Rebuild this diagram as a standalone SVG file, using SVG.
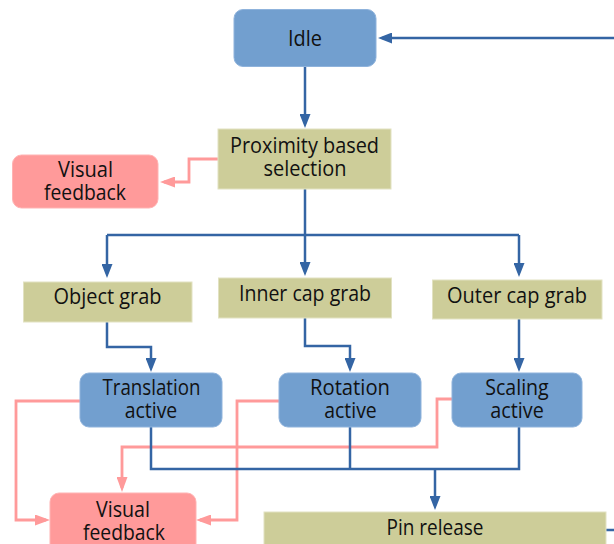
<svg xmlns="http://www.w3.org/2000/svg" width="614" height="544" viewBox="0 0 614 544">
  <defs>
    <style>
      .state { fill: #729fcf; stroke: #8fb3dc; stroke-width: 1; }
      .step { fill: #cdcd99; stroke: #e2e2c2; stroke-width: 1; }
      .fb { fill: #ff9a9a; stroke: #ffb3b3; stroke-width: 1; }
      .lbl { font-family: "Open Sans", "Noto Sans", "DejaVu Sans", sans-serif; font-size: 22px; fill: #111; text-anchor: middle; }
      .flow { fill: none; stroke: #3465a4; stroke-width: 2.5; }
      .hint { fill: none; stroke: #ff9a9a; stroke-width: 2.8; }
    </style>
    <marker id="arrowBlue" markerUnits="userSpaceOnUse" markerWidth="15" markerHeight="11" refX="10" refY="5.5" orient="auto">
      <path d="M0,0 L14,5.5 L0,11 z" fill="#3465a4"/>
    </marker>
    <marker id="arrowPink" markerUnits="userSpaceOnUse" markerWidth="15" markerHeight="11" refX="11" refY="5.5" orient="auto">
      <path d="M0,0 L15,5.5 L0,11 z" fill="#ff9a9a"/>
    </marker>
  </defs>
  <rect width="614" height="544" fill="#ffffff"/>

  <!-- feedback links -->
  <g id="connectors-feedback">
    <path class="hint" d="M218,159 H189 V182 H164" marker-end="url(#arrowPink)"/>
    <path class="hint" d="M80,401 H16 V520 H46" marker-end="url(#arrowPink)"/>
    <path class="hint" d="M279,401 H237 V520 H200" marker-end="url(#arrowPink)"/>
    <path class="hint" d="M452,399 H437 V447 H122 V488" marker-end="url(#arrowPink)"/>
  </g>

  <!-- main flow -->
  <g id="connectors-flow">
    <path class="flow" d="M305,67 V124" marker-end="url(#arrowBlue)"/>
    <path class="flow" d="M305,189 V235"/>
    <path class="flow" d="M107,235 H519"/>
    <path class="flow" d="M107,235 V274" marker-end="url(#arrowBlue)"/>
    <path class="flow" d="M305,235 V272" marker-end="url(#arrowBlue)"/>
    <path class="flow" d="M519,235 V273" marker-end="url(#arrowBlue)"/>
    <path class="flow" d="M107,322 V347 H151 V368" marker-end="url(#arrowBlue)"/>
    <path class="flow" d="M305,318 V346 H350 V368" marker-end="url(#arrowBlue)"/>
    <path class="flow" d="M519,319 V368" marker-end="url(#arrowBlue)"/>
    <path class="flow" d="M151,427 V469 H519 V427"/>
    <path class="flow" d="M350,427 V469"/>
    <path class="flow" d="M435,469 V506" marker-end="url(#arrowBlue)"/>
    <path class="flow" d="M606,530 H620 V38 H382" marker-end="url(#arrowBlue)"/>
  </g>

  <g id="idle">
    <rect class="state" x="234" y="9.5" width="142" height="57" rx="9"/>
    <text class="lbl" x="305" y="46" textLength="34" lengthAdjust="spacingAndGlyphs">Idle</text>
  </g>

  <g id="proximity-selection">
    <rect class="step" x="218" y="129" width="173" height="60"/>
    <text class="lbl" x="304.5" y="153" textLength="149" lengthAdjust="spacingAndGlyphs">Proximity based</text>
    <text class="lbl" x="305" y="176" textLength="83" lengthAdjust="spacingAndGlyphs">selection</text>
  </g>

  <g id="feedback-selection">
    <rect class="fb" x="12.5" y="155" width="145.5" height="53" rx="9"/>
    <text class="lbl" x="85.5" y="177" textLength="55" lengthAdjust="spacingAndGlyphs">Visual</text>
    <text class="lbl" x="85" y="200" textLength="82" lengthAdjust="spacingAndGlyphs">feedback</text>
  </g>

  <g id="object-grab">
    <rect class="step" x="23.5" y="282" width="168.5" height="40"/>
    <text class="lbl" x="107.5" y="304" textLength="108" lengthAdjust="spacingAndGlyphs">Object grab</text>
  </g>

  <g id="inner-cap-grab">
    <rect class="step" x="218.5" y="278" width="173" height="40"/>
    <text class="lbl" x="305" y="301" textLength="132" lengthAdjust="spacingAndGlyphs">Inner cap grab</text>
  </g>

  <g id="outer-cap-grab">
    <rect class="step" x="432.5" y="280" width="169.5" height="39"/>
    <text class="lbl" x="517" y="303" textLength="140" lengthAdjust="spacingAndGlyphs">Outer cap grab</text>
  </g>

  <g id="translation-active">
    <rect class="state" x="80" y="373" width="142" height="54" rx="9"/>
    <text class="lbl" x="151.5" y="395" textLength="98" lengthAdjust="spacingAndGlyphs">Translation</text>
    <text class="lbl" x="151" y="418" textLength="52.5" lengthAdjust="spacingAndGlyphs">active</text>
  </g>

  <g id="rotation-active">
    <rect class="state" x="279" y="373" width="142" height="54" rx="9"/>
    <text class="lbl" x="350" y="395" textLength="80" lengthAdjust="spacingAndGlyphs">Rotation</text>
    <text class="lbl" x="350.5" y="418" textLength="52.5" lengthAdjust="spacingAndGlyphs">active</text>
  </g>

  <g id="scaling-active">
    <rect class="state" x="452" y="373" width="130" height="54" rx="9"/>
    <text class="lbl" x="517" y="395" textLength="63.5" lengthAdjust="spacingAndGlyphs">Scaling</text>
    <text class="lbl" x="517" y="418" textLength="53.5" lengthAdjust="spacingAndGlyphs">active</text>
  </g>

  <g id="feedback-manipulation">
    <rect class="fb" x="50" y="493" width="146" height="70" rx="9"/>
    <text class="lbl" x="123" y="517" textLength="54" lengthAdjust="spacingAndGlyphs">Visual</text>
    <text class="lbl" x="124" y="540" textLength="82" lengthAdjust="spacingAndGlyphs">feedback</text>
  </g>

  <g id="pin-release">
    <rect class="step" x="264" y="512" width="342" height="50"/>
    <text class="lbl" x="435" y="535" textLength="97" lengthAdjust="spacingAndGlyphs">Pin release</text>
  </g>
</svg>
